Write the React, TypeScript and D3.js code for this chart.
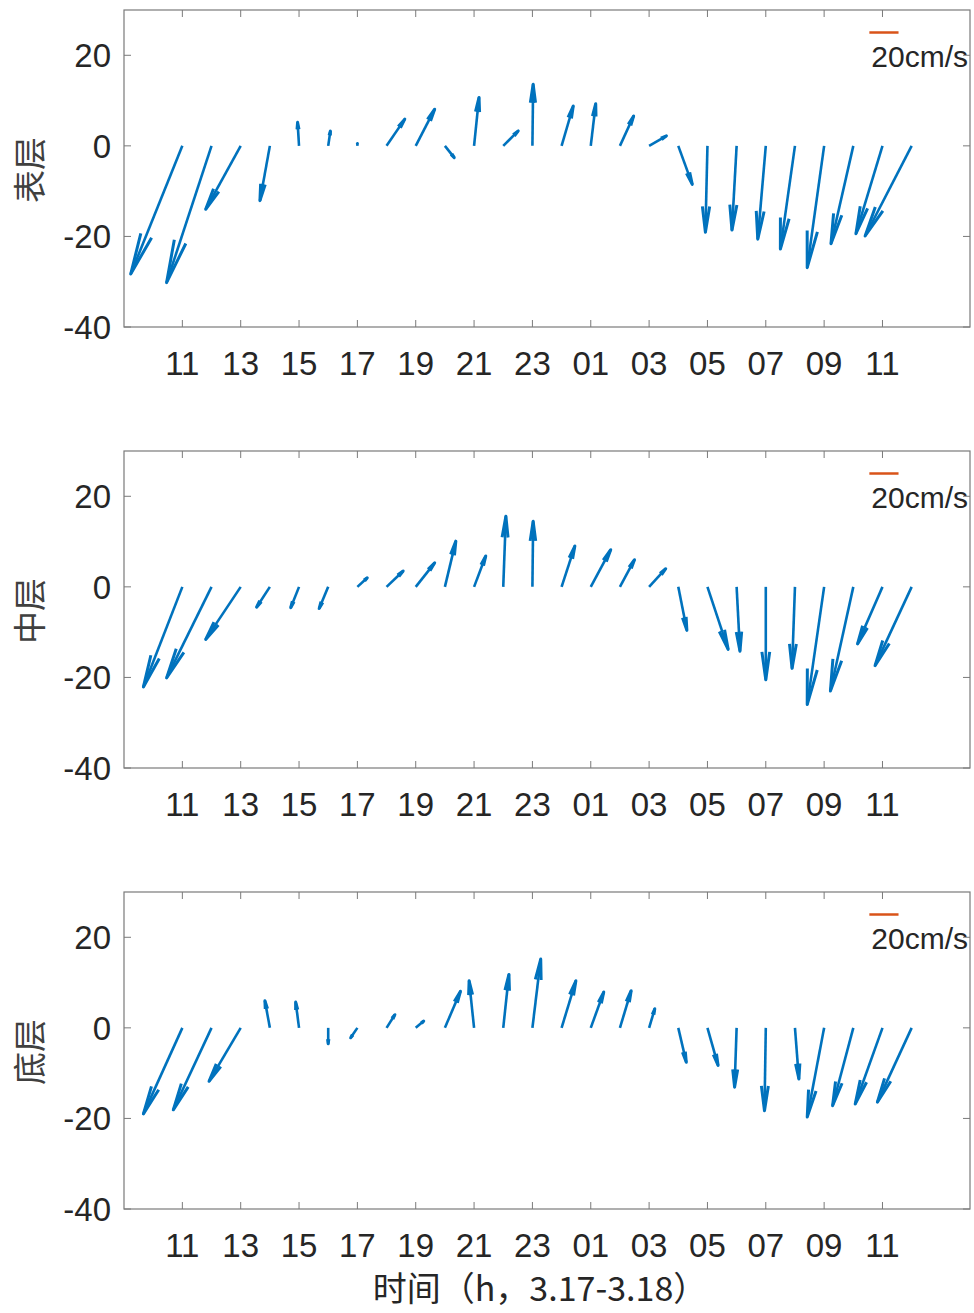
import React from "react";
import * as d3 from "d3";

// hours since 00:00 on 3.17
const hours = d3.range(11, 37);
const tickHours = d3.range(11, 36, 2);
const yTicks = [-40, -20, 0, 20];
const layers = ["表层", "中层", "底层"];

// eastward component (cm/s)
const uSurface = [-35.4, -30.8, -24, -6.8, -1, 1.5, 0, 12.5, 13, 6.4, 3.4, 10.3, 0.5, 8, 3.4, 9.4, 11.9, 9.6, -1.4, -3.2, -5.5, -10, -11.6, -15.3, -18.2, -31.9];
// northward component (cm/s)
const vSurface = [-28.3, -30.2, -14, -12.1, 5.2, 3.3, 0.5, 5.9, 8.1, -2.6, 10.7, 3.3, 13.6, 8.8, 9.3, 6.6, 2.2, -8.5, -19.1, -18.6, -20.6, -22.8, -26.9, -21.6, -19.4, -19.9];

const uMiddle = [-26.7, -30.8, -24, -9.1, -5.7, -6.2, 6.8, 11.4, 13, 7.5, 8, 1.8, 0.5, 9.1, 13.7, 10, 11.4, 5.9, 14.2, 2.3, 0, -2, -11.6, -15.7, -17.1, -25.1];
const vMiddle = [-22.1, -20.1, -11.6, -4.5, -4.6, -4.8, 2, 3.5, 5.3, 10.1, 6.8, 15.6, 14.5, 9, 8.2, 6, 4, -9.6, -13.8, -14.2, -20.5, -18, -26, -23, -12.6, -17.4];

const uBottom = [-26.7, -26.2, -21.7, -3.4, -2.3, 0, -4.6, 5.7, 5.5, 10.7, -3.4, 3.9, 5.7, 9.8, 8.9, 7.7, 3.9, 5.5, 7.3, -1.4, -0.9, 2.7, -11.6, -14.2, -18.7, -23.5];
const vBottom = [-19, -18.1, -11.8, 6, 5.7, -3.5, -2.2, 2.9, 1.5, 8.1, 10.4, 11.8, 15.2, 10.4, 7.9, 8.2, 4.2, -7.6, -8.3, -13.1, -18.3, -11.3, -19.7, -17.2, -16.8, -16.4];

const uSeries = [uSurface, uMiddle, uBottom];
const vSeries = [vSurface, vMiddle, vBottom];

const refSpeed = 20; // cm/s
const refHour = 34.55;

const W = 974;
const H = 1313;
const left = 124;
const right = 970;
const panelTops = [10, 451, 892];
const panelH = 317;
const blue = "#0072BD";
const orange = "#D95319";
const axisColor = "#7a7a7a";
const textColor = "#262626";
const font = "'Liberation Sans', Arial, sans-serif";
const cjkFont = "'Noto Sans CJK SC', sans-serif";

const x = d3.scaleLinear().domain([9, 38]).range([left, right]);
// u (cm/s) -> hours offset
const uToHours = d3.scaleLinear().domain([0, refSpeed]).range([0, 1]);

function fmtHour(h: number) {
  return d3.format("02d")(h % 24);
}

function Arrow({ x0, y0, x1, y1 }: { x0: number; y0: number; x1: number; y1: number }) {
  const dx = x1 - x0;
  const dy = y1 - y0;
  const L = Math.hypot(dx, dy);
  if (L < 0.5) return null;
  const ux = dx / L;
  const uy = dy / L;
  const hl = 0.3 * L;
  const hw = 0.042 * L;
  const bx = x1 - ux * hl;
  const by = y1 - uy * hl;
  const w1x = bx - uy * hw;
  const w1y = by + ux * hw;
  const w2x = bx + uy * hw;
  const w2y = by - ux * hw;
  return (
    <g>
      <line x1={x0} y1={y0} x2={x1} y2={y1} stroke={blue} strokeWidth={2.6} />
      <polyline
        points={`${w1x},${w1y} ${x1},${y1} ${w2x},${w2y}`}
        fill="none"
        stroke={blue}
        strokeWidth={3}
        strokeLinejoin="round"
      />
    </g>
  );
}

function Panel({ idx }: { idx: number }) {
  const top = panelTops[idx];
  const y = d3.scaleLinear().domain([-40, 30]).range([top + panelH, top]);
  const us = uSeries[idx];
  const vs = vSeries[idx];
  const tl = 7;
  return (
    <g>
      <rect x={left} y={top} width={right - left} height={panelH} fill="#fff" stroke={axisColor} strokeWidth={1.2} />
      {tickHours.map((h) => (
        <g key={h}>
          <line x1={x(h)} x2={x(h)} y1={top + panelH} y2={top + panelH - tl} stroke={axisColor} />
          <line x1={x(h)} x2={x(h)} y1={top} y2={top + tl} stroke={axisColor} />
          <text
            x={x(h)}
            y={top + panelH + 48}
            textAnchor="middle"
            fontSize={33}
            fontFamily={font}
            fill={textColor}
          >
            {fmtHour(h)}
          </text>
        </g>
      ))}
      {yTicks.map((t) => (
        <g key={t}>
          <line x1={left} x2={left + tl} y1={y(t)} y2={y(t)} stroke={axisColor} />
          <line x1={right} x2={right - tl} y1={y(t)} y2={y(t)} stroke={axisColor} />
          <text
            x={left - 13}
            y={y(t) + 12}
            textAnchor="end"
            fontSize={33}
            fontFamily={font}
            fill={textColor}
          >
            {t}
          </text>
        </g>
      ))}
      <text
        transform={`translate(42,${top + 160}) rotate(-90)`}
        textAnchor="middle"
        fontSize={33}
        fontFamily={cjkFont}
        fill="#404040"
      >
        {layers[idx]}
      </text>
      {hours.map((h, i) => (
        <Arrow
          key={h}
          x0={x(h)}
          y0={y(0)}
          x1={x(h + uToHours(us[i]))}
          y1={y(vs[i])}
        />
      ))}
      <line
        x1={x(refHour)}
        x2={x(refHour + uToHours(refSpeed))}
        y1={top + 22.5}
        y2={top + 22.5}
        stroke={orange}
        strokeWidth={2.5}
      />
      <text x={x(refHour) + 2} y={top + 57} fontSize={30} fontFamily={font} fill={textColor}>
        {`${refSpeed}cm/s`}
      </text>
    </g>
  );
}

export default function App() {
  return (
    <svg
      width={W}
      height={H}
      style={{ position: "absolute", left: 0, top: 0, background: "#fff" }}
    >
      <rect width={W} height={H} fill="#fff" />
      {layers.map((_, i) => (
        <Panel key={i} idx={i} />
      ))}
      <text
        x={540}
        y={1301}
        textAnchor="middle"
        fontSize={34}
        fontFamily={cjkFont}
        fill={textColor}
      >
        时间（h，3.17-3.18）
      </text>
    </svg>
  );
}
